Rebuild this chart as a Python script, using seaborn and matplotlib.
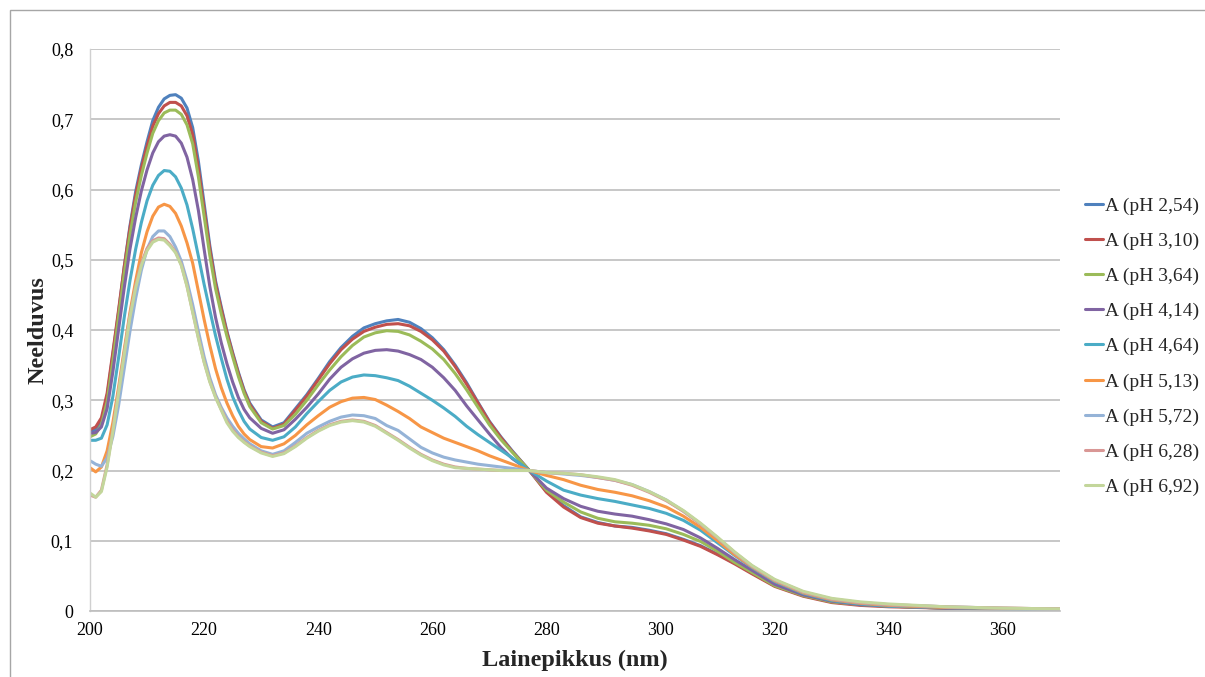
import numpy as np
import pandas as pd
import matplotlib
matplotlib.use("Agg")
import matplotlib.pyplot as plt
from matplotlib.patches import Rectangle
import seaborn as sns

wavelength = [200, 201, 202, 203, 204, 205, 206, 207, 208, 209, 210, 211, 212, 213, 214, 215,
              216, 217, 218, 219, 220, 221, 222, 223, 224, 225, 226, 227, 228, 230, 232, 234,
              236, 238, 240, 242, 244, 246, 248, 250, 252, 254, 256, 258, 260, 262, 264, 266,
              268, 270, 272, 274, 277, 280, 283, 286, 289, 292, 295, 298, 301, 304, 307, 310,
              313, 316, 320, 325, 330, 335, 340, 350, 360, 370]

series_names = ["A (pH 2,54)", "A (pH 3,10)", "A (pH 3,64)", "A (pH 4,14)", "A (pH 4,64)",
                "A (pH 5,13)", "A (pH 5,72)", "A (pH 6,28)", "A (pH 6,92)"]

ph_2_54 = [.255, .258, .270, .305, .365, .425, .490, .548, .597, .635, .668, .698, .717, .729, .734, .735,
           .730, .716, .688, .640, .580, .520, .470, .433, .398, .368, .340, .315, .296, .272, .262, .268,
           .288, .308, .331, .355, .375, .391, .403, .409, .413, .415, .411, .402, .389, .372, .350, .325,
           .297, .270, .248, .228, .200, .170, .150, .134, .126, .121, .119, .115, .110, .102, .093, .081,
           .068, .054, .036, .022, .013, .009, .007, .004, .003, .002]
ph_3_10 = [.258, .262, .275, .310, .368, .428, .490, .545, .592, .630, .662, .690, .708, .719, .724, .724,
           .719, .705, .678, .630, .572, .515, .466, .430, .396, .366, .338, .313, .294, .270, .260, .266,
           .286, .306, .329, .352, .372, .387, .398, .404, .408, .409, .406, .398, .386, .370, .348, .323,
           .296, .269, .247, .227, .200, .169, .148, .133, .125, .121, .118, .114, .109, .101, .092, .080,
           .067, .053, .035, .021, .012, .008, .006, .004, .003, .002]
ph_3_64 = [.248, .252, .265, .298, .355, .418, .480, .535, .582, .620, .652, .680, .698, .709, .713, .713,
           .707, .692, .665, .618, .562, .506, .459, .423, .391, .362, .334, .310, .291, .268, .259, .264,
           .280, .300, .322, .343, .362, .378, .390, .396, .399, .398, .393, .384, .373, .358, .338, .315,
           .290, .265, .244, .226, .200, .172, .155, .141, .132, .127, .125, .122, .117, .109, .099, .085,
           .069, .055, .036, .022, .013, .009, .007, .004, .003, .002]
ph_4_14 = [.253, .254, .262, .288, .340, .400, .460, .515, .560, .598, .628, .652, .668, .676, .678, .676,
           .666, .646, .614, .570, .515, .462, .418, .382, .352, .326, .304, .287, .275, .260, .253, .258,
           .273, .290, .309, .330, .347, .359, .367, .371, .372, .370, .365, .358, .347, .332, .314, .292,
           .272, .252, .233, .217, .200, .175, .160, .149, .142, .138, .135, .130, .124, .116, .104, .089,
           .073, .058, .038, .023, .014, .009, .007, .004, .003, .002]
ph_4_64 = [.243, .243, .246, .265, .305, .360, .418, .470, .515, .553, .584, .606, .620, .627, .626, .618,
           .602, .578, .544, .505, .465, .428, .392, .360, .330, .305, .286, .270, .259, .247, .243, .248,
           .262, .281, .298, .314, .326, .333, .336, .335, .332, .328, .320, .310, .300, .289, .277, .263,
           .251, .240, .229, .218, .200, .185, .172, .165, .160, .156, .151, .146, .139, .129, .115, .097,
           .079, .062, .042, .025, .015, .010, .007, .005, .003, .002]
ph_5_13 = [.204, .198, .205, .228, .268, .318, .372, .425, .470, .510, .540, .562, .575, .579, .576, .566,
           .548, .524, .495, .455, .415, .378, .345, .318, .296, .278, .263, .252, .244, .234, .232, .238,
           .250, .265, .278, .290, .298, .303, .304, .301, .293, .284, .274, .262, .254, .246, .240, .234,
           .228, .221, .215, .209, .200, .193, .187, .179, .173, .169, .164, .157, .148, .135, .119, .100,
           .080, .063, .043, .026, .016, .011, .008, .005, .004, .003]
ph_5_72 = [.214, .209, .206, .218, .248, .292, .345, .398, .445, .485, .515, .533, .541, .541, .533, .518,
           .498, .470, .436, .398, .362, .332, .308, .290, .275, .263, .253, .245, .238, .228, .223, .228,
           .240, .253, .262, .270, .276, .279, .278, .274, .264, .257, .245, .233, .225, .219, .215, .212,
           .209, .207, .205, .203, .200, .197, .195, .193, .190, .186, .180, .170, .158, .142, .124, .104,
           .083, .064, .044, .027, .017, .012, .009, .006, .004, .003]
ph_6_28 = [.165, .162, .172, .208, .258, .313, .368, .421, .463, .495, .516, .527, .531, .530, .522, .511,
           .493, .463, .426, .389, .355, .327, .305, .287, .270, .258, .248, .241, .235, .226, .221, .225,
           .235, .247, .257, .265, .270, .272, .270, .264, .254, .244, .233, .223, .215, .209, .205, .203,
           .202, .201, .200, .200, .200, .197, .196, .194, .190, .186, .179, .169, .157, .142, .124, .104,
           .083, .064, .044, .027, .017, .012, .009, .006, .004, .003]
ph_6_92 = [.168, .162, .170, .205, .255, .310, .365, .418, .460, .492, .513, .525, .529, .528, .520, .510,
           .492, .462, .425, .388, .354, .326, .304, .286, .268, .256, .247, .240, .234, .225, .220, .224,
           .234, .246, .256, .264, .269, .271, .269, .263, .253, .243, .232, .222, .214, .208, .204, .203,
           .202, .201, .200, .200, .200, .197, .196, .194, .191, .187, .180, .170, .158, .143, .125, .105,
           .084, .065, .045, .028, .018, .013, .010, .006, .004, .003]

colors = ["#4F81BD", "#C0504D", "#9BBB59", "#8064A2", "#4BACC6", "#F79646",
          "#95B3D7", "#D99795", "#C3D69B"]

all_values = [ph_2_54, ph_3_10, ph_3_64, ph_4_14, ph_4_64, ph_5_13, ph_5_72, ph_6_28, ph_6_92]
frames = []
for name, vals in zip(series_names, all_values):
    frames.append(pd.DataFrame({"nm": wavelength, "A": vals, "series": name}))
df = pd.concat(frames, ignore_index=True)

sns.set_theme(style="white")
plt.rcParams["font.family"] = ["Liberation Serif", "DejaVu Serif"]

W, H = 1205, 677
fig = plt.figure(figsize=(W / 100, H / 100), dpi=100)
ax = fig.add_axes([90 / W, 1 - 611 / H, (1060 - 90) / W, (611 - 49) / H])

sns.lineplot(data=df, x="nm", y="A", hue="series", hue_order=series_names,
             palette=colors, linewidth=2.2, ax=ax, legend=True, estimator=None, sort=False)

ax.set_xlim(200, 370)
ax.set_ylim(0, 0.8)
xt = [200, 220, 240, 260, 280, 300, 320, 340, 360]
yt = [0, 0.1, 0.2, 0.3, 0.4, 0.5, 0.6, 0.7, 0.8]
ax.set_xticks(xt)
ax.set_xticklabels([str(v) for v in xt])
ax.set_yticks(yt)
ax.set_yticklabels(["0"] + [f"{v:.1f}".replace(".", ",") for v in yt[1:]])
ax.tick_params(axis="x", length=0, labelsize=13, colors="black", pad=8)
ax.tick_params(axis="y", length=0, labelsize=13, colors="black", pad=12)
ax.yaxis.grid(True, color="#BEBEBE", linewidth=1.2)
ax.xaxis.grid(False)
for s in ["top", "right"]:
    ax.spines[s].set_visible(False)
ax.spines["left"].set_color("#D0D0D0")
ax.spines["left"].set_linewidth(1.0)
ax.spines["bottom"].set_color("#BEBEBE")
ax.spines["bottom"].set_linewidth(1.2)

ax.set_xlabel("Lainepikkus (nm)", fontsize=17.5, fontweight="bold", labelpad=8)
ax.set_ylabel("Neelduvus", fontsize=17.5, fontweight="bold", labelpad=2)

handles, labels = ax.get_legend_handles_labels()
ax.legend(handles, labels, loc="upper left", bbox_to_anchor=(1085 / W, 1 - 197 / H),
          bbox_transform=fig.transFigure, frameon=False, fontsize=14,
          handlelength=0.95, handletextpad=0.1, labelspacing=0.9, borderaxespad=0,
          borderpad=0)

fig.patches.append(Rectangle((10 / W, -0.5), 2, (H - 10) / H + 0.5, transform=fig.transFigure,
                             fill=False, edgecolor="#A6A6A6", linewidth=1.0))

fig.savefig("out.png", dpi=100)
